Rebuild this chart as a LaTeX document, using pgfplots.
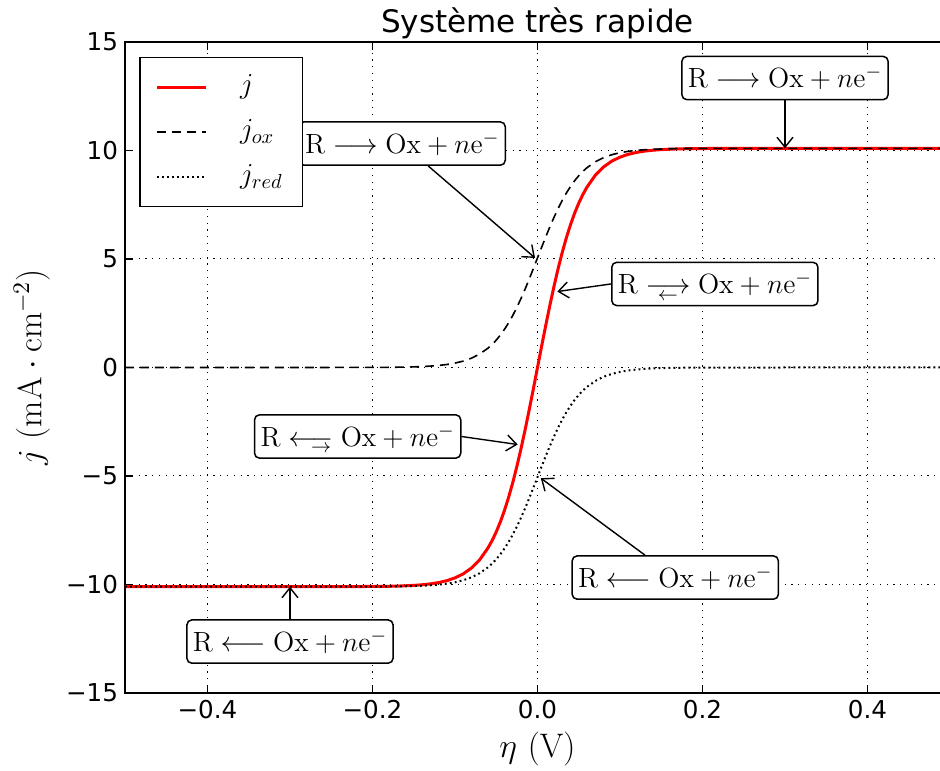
\RequirePackage{fix-cm}
\documentclass[border=0pt]{standalone}
\usepackage{amsmath}
\usepackage[no-math]{fontspec}
\setmainfont{DejaVu Sans}
\usepackage{pgfplots}
\usepackage{pgfplotstable}
\pgfplotsset{compat=1.18}
\usetikzlibrary{arrows.meta}

% eta, j_ox, j_red, j  (mA/cm^2)
\pgfplotstableread{
x ox red j
-0.50 0.0000 -10.1000 -10.1000
-0.30 0.0001 -10.0999 -10.0998
-0.20 0.0042 -10.0958 -10.0916
-0.19 0.0062 -10.0938 -10.0876
-0.18 0.0092 -10.0908 -10.0816
-0.17 0.0135 -10.0865 -10.0730
-0.16 0.0199 -10.0801 -10.0602
-0.15 0.0294 -10.0706 -10.0412
-0.14 0.0434 -10.0566 -10.0132
-0.13 0.0638 -10.0362 -9.9724
-0.12 0.0939 -10.0061 -9.9122
-0.11 0.1379 -9.9621 -9.8242
-0.10 0.2021 -9.8979 -9.6958
-0.09 0.2955 -9.8045 -9.5090
-0.08 0.4300 -9.6700 -9.2400
-0.07 0.6223 -9.4777 -8.8554
-0.06 0.8922 -9.2078 -8.3156
-0.055 1.0633 -9.0367 -7.9734
-0.05 1.2625 -8.8375 -7.5750
-0.045 1.4940 -8.6060 -7.1120
-0.04 1.7596 -8.3404 -6.5808
-0.035 2.0596 -8.0404 -5.9808
-0.03 2.3970 -7.7030 -5.3060
-0.025 2.7706 -7.3294 -4.5588
-0.02 3.1790 -6.9210 -3.7420
-0.015 3.6168 -6.4832 -2.8664
-0.01 4.0790 -6.0210 -1.9420
-0.005 4.5603 -5.5397 -0.9794
0.00 5.0500 -5.0500 0.0000
0.005 5.5397 -4.5603 0.9794
0.01 6.0210 -4.0790 1.9420
0.015 6.4832 -3.6168 2.8664
0.02 6.9210 -3.1790 3.7420
0.025 7.3294 -2.7706 4.5588
0.03 7.7030 -2.3970 5.3060
0.035 8.0404 -2.0596 5.9808
0.04 8.3404 -1.7596 6.5808
0.045 8.6060 -1.4940 7.1120
0.05 8.8375 -1.2625 7.5750
0.055 9.0367 -1.0633 7.9734
0.06 9.2078 -0.8922 8.3156
0.07 9.4777 -0.6223 8.8554
0.08 9.6700 -0.4300 9.2400
0.09 9.8045 -0.2955 9.5090
0.10 9.8979 -0.2021 9.6958
0.11 9.9621 -0.1379 9.8242
0.12 10.0061 -0.0939 9.9122
0.13 10.0362 -0.0638 9.9724
0.14 10.0566 -0.0434 10.0132
0.15 10.0706 -0.0294 10.0412
0.16 10.0801 -0.0199 10.0602
0.17 10.0865 -0.0135 10.0730
0.18 10.0908 -0.0092 10.0816
0.19 10.0938 -0.0062 10.0876
0.20 10.0958 -0.0042 10.0916
0.30 10.0999 -0.0001 10.0998
0.50 10.1000 0.0000 10.1000
}\data

\newcommand{\reac}[1]{$\mathrm{R}#1\mathrm{Ox}+n\mathrm{e}^-$}
% long arrow with a small opposite arrow tucked underneath
\newcommand{\eqfwd}{\mathrel{\hbox{\ooalign{$\longrightarrow$\cr
  \hidewidth\smash{\raisebox{-3.3pt}{$\scriptstyle\leftarrow$}}\hidewidth\cr}}}}
\newcommand{\eqbwd}{\mathrel{\hbox{\ooalign{$\longleftarrow$\cr
  \hidewidth\smash{\raisebox{-3.3pt}{$\scriptstyle\rightarrow$}}\kern1pt\cr}}}}

\tikzset{
  annot/.style={draw=black, fill=white, rounded corners=2.5pt, line width=0.75pt,
    inner xsep=3pt, inner ysep=4.9pt, font=\fontsize{13.9}{16}\selectfont},
  pointer/.style={-{Straight Barb[length=5pt,width=8pt]}, line width=0.7pt},
}

\begin{document}
\begin{tikzpicture}
\begin{axis}[
  scale only axis,
  width=412.5pt, height=325.5pt,
  xmin=-0.5, xmax=0.5, ymin=-15, ymax=15,
  xtick={-0.4,-0.2,0,0.2,0.4},
  xticklabels={−0.4,−0.2,0.0,0.2,0.4},
  ytick={-15,-10,-5,0,5,10,15},
  yticklabels={−15,−10,−5,0,5,10,15},
  tick label style={font=\fontsize{12.3}{14}\selectfont},
  tick align=inside,
  major tick length=4pt,
  tick style={black, line width=0.6pt},
  axis line style={line width=0.75pt},
  grid=major,
  grid style={black, line width=0.5pt, dash pattern=on 0.6pt off 2.8pt},
  title={Système très rapide},
  title style={font=\fontsize{15.5}{18}\selectfont, at={(0.5,1)}, anchor=base, yshift=-1.5pt},
  xlabel={$\eta\ (\mathrm{V})$},
  ylabel={$j\ (\mathrm{mA}\cdot\mathrm{cm}^{-2})$},
  label style={font=\fontsize{17}{20}\selectfont},
  xlabel style={at={(axis description cs:0.5,-0.086)}, anchor=center},
  ylabel style={at={(axis description cs:-0.113,0.5)}, anchor=center},
  legend cell align=left,
  legend image code/.code={\draw[#1] (0cm,0cm) -- (0.85cm,0cm);},
  legend style={at={(0.017,0.977)}, anchor=north west, draw=black, fill=white,
    line width=0.75pt, font=\fontsize{14.5}{17}\selectfont,
    inner xsep=8pt, inner ysep=5pt, row sep=3pt, column sep=14.5pt,
    nodes={text height=11pt, text depth=4.5pt}},
]
\addplot[red, line width=1.5pt] table[x=x, y=j] {\data};
\addplot[black, line width=0.8pt, dash pattern=on 4.5pt off 3pt] table[x=x, y=ox] {\data};
\addplot[black, line width=1pt, dash pattern=on 0.9pt off 1.6pt] table[x=x, y=red] {\data};
\legend{$j$, $j_{ox}$, $j_{red}$}

\node[annot] (b1) at (axis cs:0.3,13.34) {\reac{\longrightarrow}};
\draw[pointer] (b1) -- (axis cs:0.3,10.1);
\node[annot] (b2) at (axis cs:-0.164,10.32) {\reac{\longrightarrow}};
\draw[pointer] (b2) -- (axis cs:-0.003,5.05);
\node[annot] (b3) at (axis cs:0.215,3.85) {\reac{\eqfwd}};
\draw[pointer] (b3.west) -- (axis cs:0.024,3.5);
\node[annot] (b4) at (axis cs:-0.218,-3.18) {\reac{\eqbwd}};
\draw[pointer] (b4.east) -- (axis cs:-0.024,-3.55);
\node[annot] (b5) at (axis cs:0.167,-9.68) {\reac{\longleftarrow}};
\draw[pointer] (b5) -- (axis cs:0.004,-5.1);
\node[annot] (b6) at (axis cs:-0.3,-12.63) {\reac{\longleftarrow}};
\draw[pointer] (b6) -- (axis cs:-0.3,-10.1);
\end{axis}
\pgfresetboundingbox
\path[use as bounding box] ([xshift=-62.5pt,yshift=-39pt]current axis.south west)
  rectangle ([xshift=-5pt,yshift=21pt]current axis.north east);
\end{tikzpicture}
\end{document}
